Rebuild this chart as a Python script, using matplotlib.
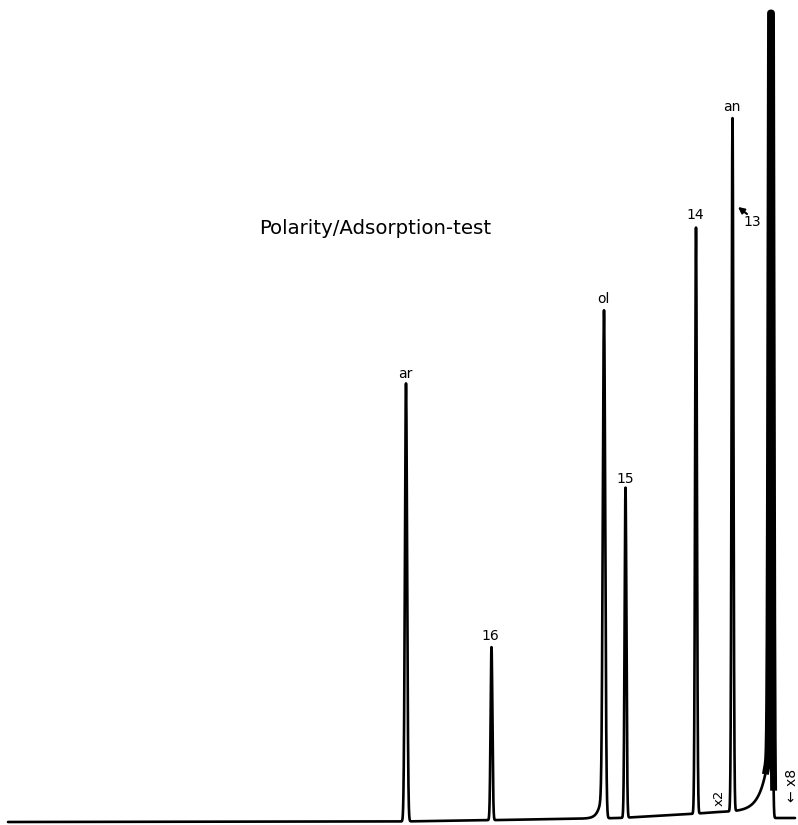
import numpy as np
import matplotlib
matplotlib.use("Agg")
import matplotlib.pyplot as plt

# retention axis in recorder units (0..798), signal in recorder units (0..825)
peak_names = ["ar", "16", "ol", "15", "14", "an", ""]
peak_rt = [406.0, 491.5, 604.0, 625.5, 696.0, 732.5, 771.0]
peak_height = [438, 173, 463, 330, 586, 693, 830]
peak_sigma = [1.1, 0.9, 1.2, 0.9, 0.9, 0.9, 1.0]
peak_front = [0, 0, 45, 0, 0, 0, 75]       # leading (fronting) tail amplitude
peak_tau = [1, 1, 3.5, 1, 1, 1, 8.0]        # fronting decay length

# baseline drift
base_x = [8, 400, 500, 620, 690, 720, 765, 770.5, 772, 795]
base_y = [3, 3.5, 5, 7, 11, 13, 14, 14, 7, 7]
full_scale = 812

label_x = [405, 490, 603, 625, 695, 732]
label_y = [451, 189, 526, 346, 610, 718]

t = np.arange(8, 795.01, 0.05)
sig = np.interp(t, base_x, base_y)
for rt, h, s, fa, tau in zip(peak_rt, peak_height, peak_sigma, peak_front, peak_tau):
    sig = sig + h * np.exp(-0.5 * ((t - rt) / s) ** 2)
    if fa:
        lead = t < rt
        sig[lead] += fa * np.exp((t[lead] - rt) / tau)
        sig[~lead] += fa * np.exp(-0.5 * ((t[~lead] - rt) / s) ** 2)
sig = np.minimum(sig, full_scale)

fig = plt.figure(figsize=(7.98, 8.25), dpi=100)
ax = fig.add_axes([0, 0, 1, 1])
ax.plot(t, sig, color="black", lw=1.9, solid_capstyle="round")

# off-scale peak drawn heavier
big = (t > 766) & (t < 776) & (sig > 35)
ax.plot(t[big], sig[big], color="black", lw=5)

for name, x, y in zip(peak_names, label_x, label_y):
    if name:
        ax.text(x, y, name, ha="center", va="center", fontsize=10)

ax.annotate("", xy=(738, 618), xytext=(747, 611),
            arrowprops=dict(arrowstyle="-|>", color="black", lw=1.5,
                            shrinkA=0, shrinkB=0, mutation_scale=9))
ax.text(752, 603, "13", ha="center", va="center", fontsize=10)

ax.text(375, 597, "Polarity/Adsorption-test", ha="center", va="center",
        fontsize=14.2)
ax.text(719, 27, "x2", rotation=90, ha="center", va="center", fontsize=9.5)
ax.text(792, 40, "\u2190 x8", rotation=90, ha="center", va="center", fontsize=10)

ax.set_xlim(0, 798)
ax.set_ylim(0, 825)
ax.axis("off")

fig.savefig("out.png", dpi=100)
